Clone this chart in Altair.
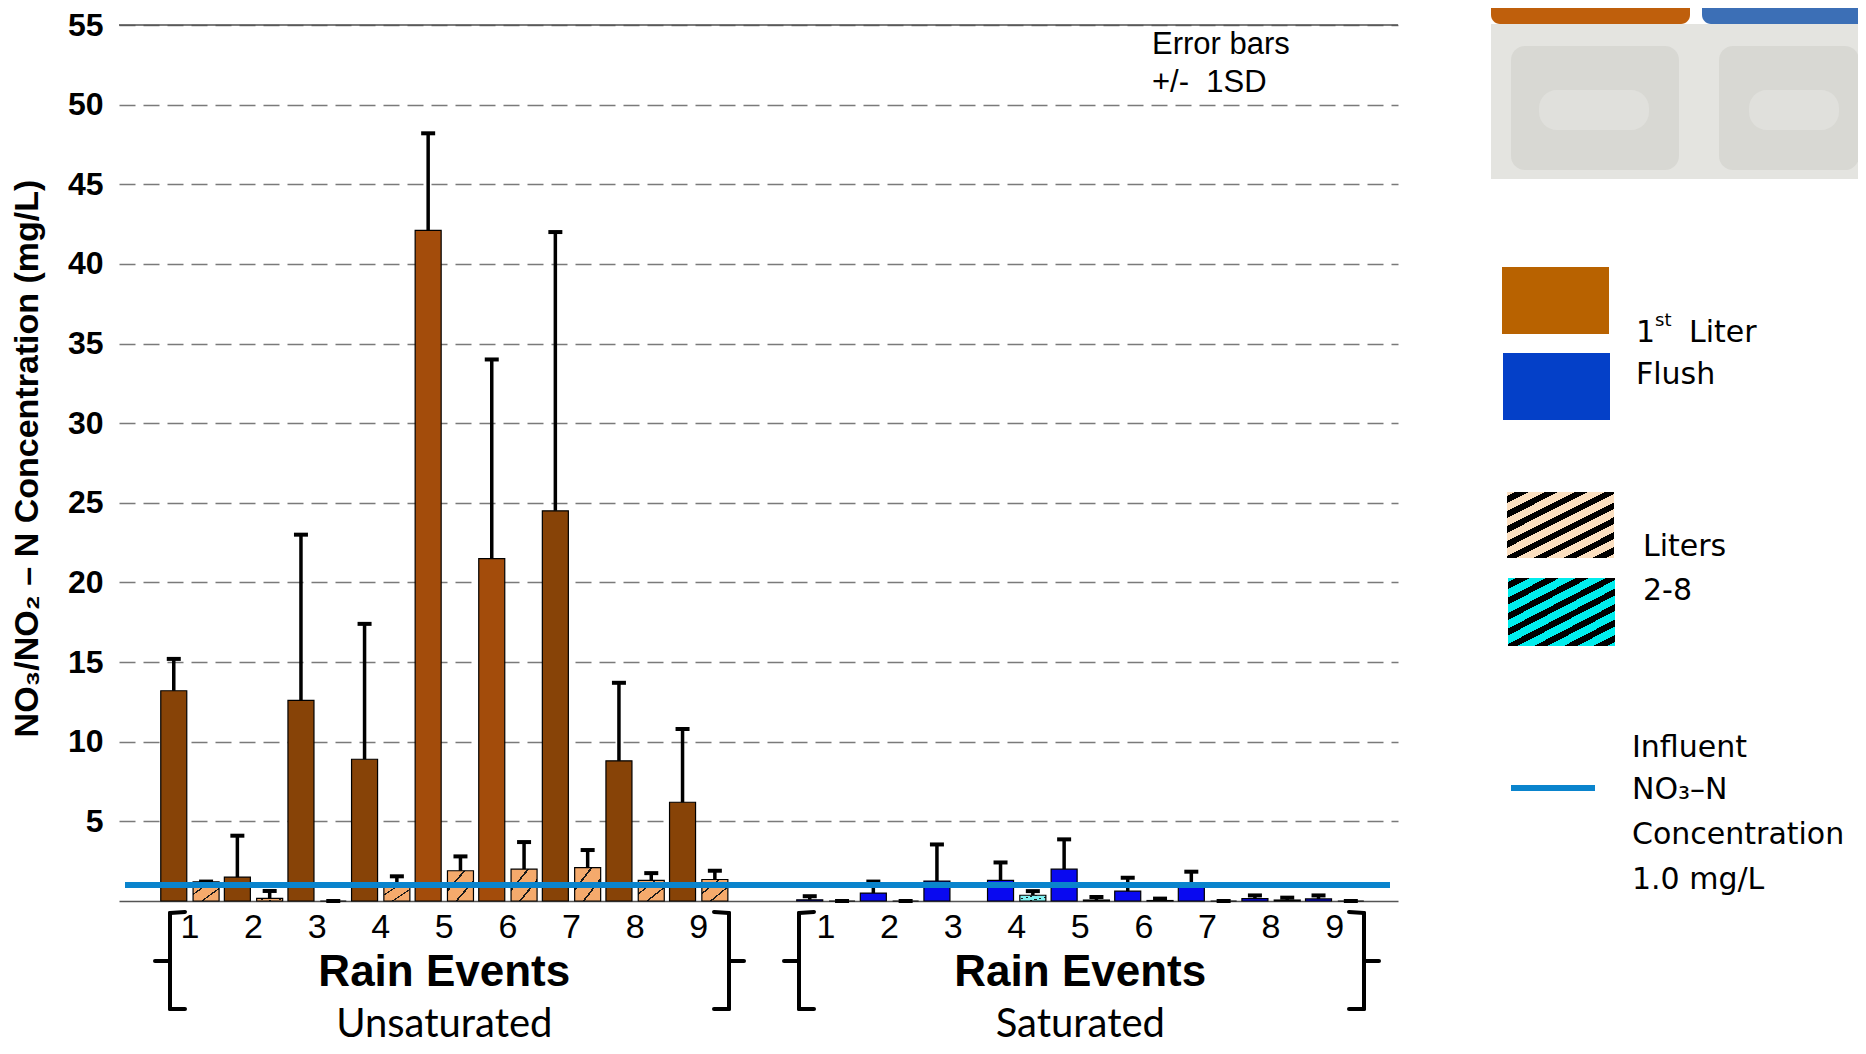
import altair as alt
import pandas as pd

# ---------------- data ----------------
events = ["1", "2", "3", "4", "5", "6", "7", "8", "9"]
unsat_first = [13.2, 1.5, 12.6, 8.9, 42.1, 21.5, 24.5, 8.8, 6.2]
unsat_first_sd = [2.0, 2.6, 10.4, 8.5, 6.1, 12.5, 17.5, 4.9, 4.6]
unsat_rest = [1.2, 0.17, 0.0, 1.1, 1.9, 2.0, 2.1, 1.3, 1.35]
unsat_rest_sd = [0.02, 0.46, 0.0, 0.45, 0.9, 1.7, 1.1, 0.45, 0.55]
sat_first = [0.08, 0.50, 1.25, 1.30, 2.00, 0.62, 1.15, 0.15, 0.13]
sat_first_sd = [0.22, 0.72, 2.30, 1.12, 1.87, 0.84, 0.69, 0.20, 0.22]
sat_rest = [0.0, 0.0, None, 0.36, 0.06, 0.03, 0.0, 0.06, 0.0]
sat_rest_sd = [0.0, 0.0, None, 0.26, 0.19, 0.12, 0.0, 0.15, 0.0]
influent = 1.0
y_ticks = [5, 10, 15, 20, 25, 30, 35, 40, 45, 50, 55]
y_top = 55

rows = []
for grp, pre, f, fsd, r, rsd in [
    ("Unsaturated", "U", unsat_first, unsat_first_sd, unsat_rest, unsat_rest_sd),
    ("Saturated", "S", sat_first, sat_first_sd, sat_rest, sat_rest_sd),
]:
    for i, e in enumerate(events):
        rows.append(dict(slot=pre + e, kind="first", group=grp, event=e, mean=f[i], sd=fsd[i]))
        if r[i] is not None:
            rows.append(dict(slot=pre + e, kind="rest", group=grp, event=e, mean=r[i], sd=rsd[i]))
df = pd.DataFrame(rows)
df["top"] = df["mean"] + df["sd"]

slot_domain = ["U" + e for e in events] + ["gap"] + ["S" + e for e in events]

# ---------------- layout ----------------
LEFT, TOP = 111, 17
W, H = 1279, 876
FONT = "Liberation Sans"


def px(page_x):  # page pixel -> plot pixel
    return page_x - 8 - LEFT


def py(page_y):
    return page_y - 8 - TOP


xscale = alt.Scale(domain=slot_domain, paddingInner=0.083, paddingOuter=0.597, align=0.55, round=False)
yscale = alt.Scale(domain=[0, y_top], nice=False, zero=True)
xo = alt.XOffset("kind:N", scale=alt.Scale(domain=["first", "rest"], paddingInner=0.195, paddingOuter=0))

x_axis = alt.Axis(
    title=None, labelExpr="datum.value == 'gap' ? '' : substring(datum.value, 1)",
    labelAngle=0, labelFont=FONT, labelFontSize=34, labelColor="black",
    labelBaseline="alphabetic", labelPadding=36, ticks=False, tickSize=0,
    domain=True, domainColor="#555555", domainWidth=1.5, grid=False, labelFlush=False,
)
y_axis = alt.Axis(
    values=y_ticks, title="NO₃/NO₂ – N Concentration (mg/L)",
    labelFont=FONT, labelFontWeight="bold", labelFontSize=32, labelColor="black",
    labelPadding=16, ticks=False, tickSize=0, domain=False,
    grid=True, gridDash=[16, 8], gridColor="#7a7a7a", gridWidth=1.5,
    titleFont=FONT, titleFontWeight="bold", titleFontSize=34, titleColor="black",
    titleAngle=270, titleX=-92, titleY=py(458), titleBaseline="middle", titleAlign="center",
)

X = alt.X("slot:N", scale=xscale, axis=x_axis)
Y = alt.Y("mean:Q", scale=yscale, axis=y_axis)
base = alt.Chart(df)


def stripes(bg, fg, centers, half):
    stops = [alt.GradientStop(color=bg, offset=0)]
    for c in centers:
        stops += [
            alt.GradientStop(color=bg, offset=c - half),
            alt.GradientStop(color=fg, offset=c - half),
            alt.GradientStop(color=fg, offset=c + half),
            alt.GradientStop(color=bg, offset=c + half),
        ]
    stops.append(alt.GradientStop(color=bg, offset=1))
    return stops


bar_hatch_u = alt.LinearGradient(gradient="linear", x1=0, y1=0, x2=1, y2=1,
                                 stops=stripes("#F5AA6C", "#1a1a1a", [0.33, 0.67], 0.02))
bar_hatch_s = alt.LinearGradient(gradient="linear", x1=0, y1=0, x2=1, y2=1,
                                 stops=stripes("#80F2F2", "#1a1a1a", [0.33, 0.67], 0.02))

bars_u_first = base.transform_filter("datum.group == 'Unsaturated' && datum.kind == 'first'").mark_bar(
    stroke="black", strokeWidth=1.2).encode(
    x=X, xOffset=xo, y=Y,
    fill=alt.condition("datum.event == '5' || datum.event == '6'", alt.value("#A34C0B"), alt.value("#874307")),
)
bars_u_rest = base.transform_filter("datum.group == 'Unsaturated' && datum.kind == 'rest'").mark_bar(
    stroke="black", strokeWidth=1.2, fill=bar_hatch_u).encode(x=X, xOffset=xo, y=Y)
bars_s_first = base.transform_filter("datum.group == 'Saturated' && datum.kind == 'first'").mark_bar(
    stroke="black", strokeWidth=1.2, fill="#0909F0").encode(x=X, xOffset=xo, y=Y)
bars_s_rest = base.transform_filter("datum.group == 'Saturated' && datum.kind == 'rest'").mark_bar(
    stroke="black", strokeWidth=1.2, fill=bar_hatch_s).encode(x=X, xOffset=xo, y=Y)
err = base.mark_rule(color="black", strokeWidth=3.5).encode(x=X, xOffset=xo, y=Y, y2="top:Q")
caps = base.mark_tick(color="black", thickness=4, size=14, opacity=1).encode(
    x=X, xOffset=xo, y=alt.Y("top:Q", scale=yscale, axis=y_axis))

one = alt.Chart(pd.DataFrame({"v": [influent], "top": [y_top]}))
influent_line = one.mark_rule(color="#0A84CD", strokeWidth=6).encode(
    y=alt.Y("v:Q", scale=yscale, axis=y_axis), x=alt.value(px(125)), x2=alt.value(px(1390)))
top_line = one.mark_rule(color="#505050", strokeWidth=1.5).encode(
    y=alt.Y("top:Q", scale=yscale, axis=y_axis), x=alt.value(0), x2=alt.value(W))

# group labels under the axis
groups = alt.Chart(pd.DataFrame({"slot": ["U5", "S5"], "name": ["Unsaturated", "Saturated"]}))
rain_txt = groups.mark_text(text="Rain Events", font=FONT, fontWeight="bold", fontSize=44,
                            baseline="alphabetic", align="center", color="black").encode(
    x=X, y=alt.value(py(986)))
grp_txt = groups.mark_text(font="Lato", fontSize=40, baseline="alphabetic", align="center",
                           color="black").encode(x=X, y=alt.value(py(1037)), text="name:N")


# braces, drawn as short rules below the axis
def seg(x1, y1, x2, y2):
    return one.mark_rule(color="black", strokeWidth=4, strokeCap="round").encode(
        x=alt.value(x1), y=alt.value(y1), x2=alt.value(x2), y2=alt.value(y2))


def brace(page_x, left=True):
    d = 1 if left else -1
    xv = px(page_x)
    top, bot, mid = py(913), py(1009), py(961)
    return [seg(xv, top, xv, bot), seg(xv, top, xv + 15 * d, top - 1),
            seg(xv, bot, xv + 15 * d, bot), seg(xv, mid, xv - 15 * d, mid)]


braces = []
for bx, lf in [(170, True), (729, False), (799, True), (1364, False)]:
    braces += brace(bx, lf)

# error bars note
note1 = one.mark_text(text="Error bars", font=FONT, fontSize=31, align="left", baseline="alphabetic",
                      color="black").encode(x=alt.value(px(1152)), y=alt.value(py(54)))
note2 = one.mark_text(text="+/-\u00a0 1SD", font=FONT, fontSize=31, align="left", baseline="alphabetic",
                      color="black").encode(x=alt.value(px(1152)), y=alt.value(py(92)))


# legend (custom, right side), positioned in page pixels
def box(x1, y1, x2, y2, **kw):
    return one.mark_rect(**kw).encode(x=alt.value(px(x1)), x2=alt.value(px(x2)),
                                      y=alt.value(py(y1)), y2=alt.value(py(y2)))


def leg_stripe(bg):
    return alt.LinearGradient(
        gradient="linear", x1=0, y1=0, x2=0.889, y2=1.091,
        stops=stripes(bg, "black", [(i + 0.5) / 8 for i in range(8)], 0.028))


LFONT = "DejaVu Sans"


def ltxt(t, x, y, size=30):
    return one.mark_text(text=t, font=LFONT, fontSize=size, align="left", baseline="alphabetic",
                         color="black").encode(x=alt.value(px(x)), y=alt.value(py(y)))


legend = [
    # blurred toolbar remnants at the top
    box(1491, 24, 1866, 179, fill="#E4E4E0"),
    box(1511, 46, 1679, 170, fill="#D4D4CF", cornerRadius=14, opacity=0.8),
    box(1719, 46, 1859, 170, fill="#D4D4CF", cornerRadius=14, opacity=0.8),
    box(1539, 90, 1649, 130, fill="#E0E0DC", cornerRadius=18),
    box(1749, 90, 1839, 130, fill="#E0E0DC", cornerRadius=18),
    box(1491, -10, 1690, 24, fill="#BF5F0C", cornerRadius=9),
    box(1702, -10, 1866, 24, fill="#3C6FB6", cornerRadius=9),
    # legend swatches
    box(1502, 267, 1609, 334, fill="#B86200"),
    box(1503, 353, 1610, 420, fill="#0440C8"),
    box(1507, 492, 1614, 558, fill=leg_stripe("#FBDFC0")),
    box(1508, 578, 1615, 646, fill=leg_stripe("#00EDED")),
    one.mark_rule(color="#0A84CD", strokeWidth=6).encode(
        x=alt.value(px(1511)), x2=alt.value(px(1595)), y=alt.value(py(788))),
    ltxt("1", 1636, 342), ltxt("st", 1655, 326, 18), ltxt("Liter", 1689, 342),
    ltxt("Flush", 1636, 384),
    ltxt("Liters", 1643, 556), ltxt("2-8", 1643, 600),
    ltxt("Influent", 1632, 757), ltxt("NO₃–N", 1632, 799),
    ltxt("Concentration", 1632, 844), ltxt("1.0 mg/L", 1632, 889),
]

chart = alt.layer(
    bars_u_first, bars_u_rest, bars_s_first, bars_s_rest, err, caps,
    influent_line, top_line, rain_txt, grp_txt, *braces, note1, note2, *legend,
).properties(
    width=W, height=H,
    padding={"left": LEFT, "top": TOP, "right": 1850 - LEFT - W, "bottom": 1038 - TOP - H},
    autosize=alt.AutoSizeParams(type="none"),
    background="white",
).configure_view(strokeWidth=0, stroke=None)

chart.save("out.html", embed_options={"renderer": "svg", "actions": False})
